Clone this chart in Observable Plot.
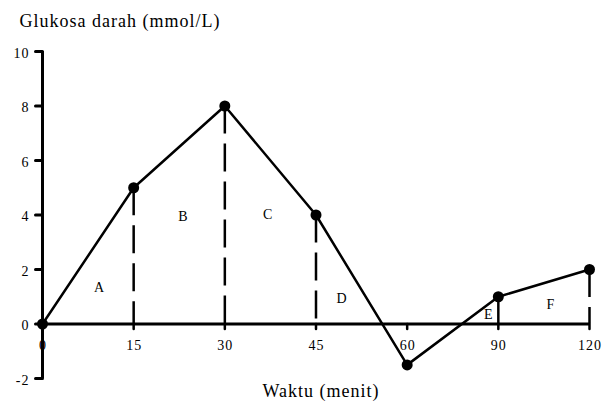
<!DOCTYPE html>
<html>
<head>
<meta charset="utf-8">
<script src="https://cdn.jsdelivr.net/npm/d3@7"></script>
<script src="https://cdn.jsdelivr.net/npm/@observablehq/plot@0.6"></script>
<style>
  html, body { margin: 0; padding: 0; background: #fff; }
  svg text { letter-spacing: 1px; }
</style>
</head>
<body>
<div id="chart"></div>
<script>
// Data
const times = [0, 15, 30, 45, 60, 90, 120];          // x categories (minutes)
const glucose = [0, 5, 8, 4, -1.5, 1, 2];            // mmol/L
const yTicks = [-2, 0, 2, 4, 6, 8, 10];
const dropTimes = [15, 30, 45, 90, 120];             // dashed drop lines
const regionLabels = ["A", "B", "C", "D", "E", "F"];
const regionX = [0.62, 1.54, 2.47, 3.28, 4.89, 5.57]; // position along category index
const regionY = [1.34, 3.93, 4.0, 0.94, 0.35, 0.70];
const title = "Glukosa darah (mmol/L)";
const xTitle = "Waktu (menit)";

const pts = times.map((t, i) => ({i, t, v: glucose[i]}));
const drops = pts.filter(d => dropTimes.includes(d.t));
const regions = regionLabels.map((l, k) => ({l, x: regionX[k], y: regionY[k]}));
const yTickData = yTicks.map(v => ({v}));

const FONT = "'Liberation Serif', 'Times New Roman', serif";
const tickShape = {draw(ctx, l) { ctx.moveTo(0, 0); ctx.lineTo(0, -l); }};

const chart = Plot.plot({
  width: 610,
  height: 401,
  marginLeft: 42,
  marginRight: 21,
  marginTop: 51,
  marginBottom: 23,
  style: {fontFamily: FONT, background: "#fff", color: "#000"},
  x: {domain: [0, times.length - 1], axis: null},
  y: {domain: [-2, 10], axis: null},
  marks: [
    // dashed drop lines
    Plot.ruleX(drops, {x: "i", y1: "v", y2: 0, stroke: "#000", strokeWidth: 2.5, strokeDasharray: "28,10"}),
    // x axis line at y = 0
    Plot.ruleY([0], {x1: 0, x2: times.length - 1, stroke: "#000", strokeWidth: 3}),
    // y axis line
    Plot.ruleX([0], {y1: -2, y2: 10, stroke: "#000", strokeWidth: 3}),
    // y ticks and labels
    Plot.vector(yTickData, {x: 0, y: "v", length: 7, rotate: -90, anchor: "start", shape: tickShape, stroke: "#000", strokeWidth: 3}),
    Plot.text(yTickData, {x: 0, y: "v", text: d => String(d.v), textAnchor: "end", dx: -13, dy: 2, fontSize: 14, fontFamily: FONT, fill: "#000"}),
    // x ticks (below the zero line) and labels
    Plot.vector(pts.filter(d => d.i > 0), {x: "i", y: 0, length: 5, rotate: 180, anchor: "start", shape: tickShape, stroke: "#000", strokeWidth: 2.5}),
    Plot.text(pts, {x: "i", y: 0, text: d => String(d.t), lineAnchor: "bottom", dy: 25.5, dx: 0.5, fontSize: 14, fontFamily: FONT, fill: "#000"}),
    // data line + dots
    Plot.line(pts, {x: "i", y: "v", stroke: "#000", strokeWidth: 2.5}),
    Plot.dot(pts, {x: "i", y: "v", r: 5.5, fill: "#000", stroke: "none"}),
    // region labels
    Plot.text(regions, {x: "x", y: "y", text: "l", fontSize: 14, fontFamily: FONT, fill: "#000", dx: 0.5}),
    // titles
    Plot.text([title], {frameAnchor: "top-left", text: d => d, textAnchor: "start", lineAnchor: "bottom", dx: -23, dy: -25, fontSize: 18, fontFamily: FONT, fill: "#000"}),
    Plot.text([xTitle], {frameAnchor: "bottom", text: d => d, lineAnchor: "bottom", dx: 5, dy: 18, fontSize: 18, fontFamily: FONT, fill: "#000"})
  ]
});
document.getElementById("chart").appendChild(chart);
</script>
</body>
</html>
